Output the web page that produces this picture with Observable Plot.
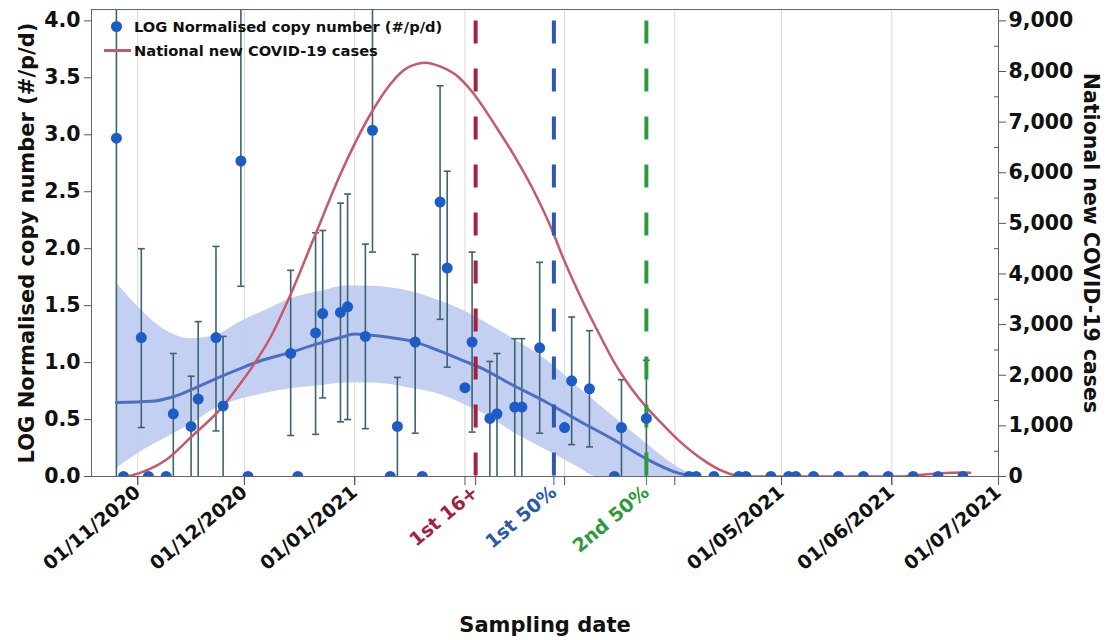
<!DOCTYPE html>
<html>
<head>
<meta charset="utf-8">
<script src="https://cdn.jsdelivr.net/npm/d3@7"></script>
<script src="https://cdn.jsdelivr.net/npm/@observablehq/plot@0.6"></script>
<style>
  body { margin: 0; background: #fff; }
  #wrap { position: relative; width: 1109px; height: 640px; overflow: hidden; }
  #chart svg text { font-weight: 700; }
  #legend { position: absolute; left: 104px; top: 14px; font-family: "DejaVu Sans", sans-serif; font-weight: 700; font-size: 14.7px; color: #111; }
  #legend .row { display: flex; align-items: center; height: 24px; white-space: nowrap; }
  #legend .sw { position: relative; width: 27px; height: 24px; margin-right: 3px; }
  #legend .dot::after { content: ""; position: absolute; left: 7px; top: 6.5px; width: 11px; height: 11px; border-radius: 50%; background: #1d5bc6; }
  #legend .line::after { content: ""; position: absolute; left: 0; top: 11px; width: 27px; height: 2.5px; background: #c6596b; }
</style>
</head>
<body>
<div id="wrap">
  <div id="chart"></div>
  <div id="legend">
    <div class="row"><span class="sw dot"></span><span>LOG Normalised copy number (#/p/d)</span></div>
    <div class="row"><span class="sw line"></span><span>National new COVID-19 cases</span></div>
  </div>
</div>
<script>
// ---------- data ----------
const sampleDates = ["2020-10-26","2020-10-28","2020-11-02","2020-11-04","2020-11-09","2020-11-11","2020-11-16","2020-11-18","2020-11-23","2020-11-25","2020-11-30","2020-12-02","2020-12-14","2020-12-16","2020-12-21","2020-12-23","2020-12-28","2020-12-30","2021-01-04","2021-01-06","2021-01-11","2021-01-13","2021-01-18","2021-01-20","2021-01-25","2021-01-27","2021-02-01","2021-02-03","2021-02-08","2021-02-10","2021-02-15","2021-02-17","2021-02-22","2021-03-01","2021-03-03","2021-03-08","2021-03-15","2021-03-17","2021-03-24","2021-04-05","2021-04-07","2021-04-12","2021-04-19","2021-04-21","2021-04-28","2021-05-03","2021-05-05","2021-05-10","2021-05-17","2021-05-24","2021-05-31","2021-06-07","2021-06-14","2021-06-21"];
const copyNumber = [2.97,0,1.22,0,0,0.55,0.44,0.68,1.22,0.62,2.77,0,1.08,0,1.26,1.43,1.44,1.49,1.23,3.04,0,0.44,1.18,0,2.41,1.83,0.78,1.18,0.51,0.55,0.61,0.61,1.13,0.43,0.84,0.77,0,0.43,0.51,0,0,0,0,0,0,0,0,0,0,0,0,0,0,0];
const errLow = [0,0,0.43,0,0,0,0,0,0.40,0,1.67,0,0.36,0,0.37,0.69,0.48,0.50,0.42,1.97,0,0,0.38,0,1.38,0.96,0.78,0.39,0,0,0,0,0.38,0.43,0.28,0.26,0,0,0,0,0,0,0,0,0,0,0,0,0,0,0,0,0,0];
const errHigh = [4.6,0,2.00,0,0,1.08,0.88,1.36,2.02,1.23,4.6,0,1.81,0,2.14,2.16,2.40,2.48,2.04,4.6,0,0.87,1.95,0,3.43,2.68,0.78,1.97,1.01,1.08,1.21,1.21,1.88,0.43,1.40,1.28,0,0.85,1.02,0,0,0,0,0,0,0,0,0,0,0,0,0,0,0];

const fitDates = ["2020-10-26","2020-11-05","2020-11-11","2020-11-18","2020-11-23","2020-11-30","2020-12-05","2020-12-14","2020-12-21","2020-12-28","2021-01-01","2021-01-04","2021-01-11","2021-01-18","2021-01-25","2021-02-01","2021-02-05","2021-02-14","2021-02-24","2021-03-05","2021-03-15","2021-03-24","2021-04-02","2021-04-07"];
const fitValues = [0.65,0.66,0.70,0.79,0.86,0.95,1.01,1.09,1.16,1.22,1.25,1.245,1.22,1.18,1.10,1.01,0.96,0.81,0.65,0.49,0.32,0.155,0.03,0.0];

const bandDates = ["2020-10-26","2020-11-02","2020-11-09","2020-11-16","2020-11-23","2020-11-30","2020-12-07","2020-12-14","2020-12-23","2020-12-30","2021-01-06","2021-01-16","2021-01-25","2021-02-01","2021-02-08","2021-02-14","2021-02-24","2021-03-05","2021-03-10","2021-03-15","2021-03-24","2021-04-02","2021-04-08"];
const bandLow = [0.07,0.22,0.34,0.46,0.60,0.68,0.73,0.77,0.80,0.82,0.82,0.78,0.72,0.63,0.52,0.40,0.23,0.08,0,0,0,0,0];
const bandHigh = [1.70,1.46,1.28,1.21,1.24,1.36,1.46,1.56,1.63,1.675,1.67,1.63,1.54,1.45,1.33,1.22,1.02,0.78,0.65,0.52,0.29,0.08,0];

const caseDates = ["2020-10-29","2020-11-02","2020-11-09","2020-11-16","2020-11-25","2020-11-30","2020-12-04","2020-12-09","2020-12-14","2020-12-21","2020-12-28","2021-01-06","2021-01-11","2021-01-16","2021-01-21","2021-01-25","2021-01-30","2021-02-03","2021-02-10","2021-02-15","2021-02-20","2021-02-25","2021-03-01","2021-03-06","2021-03-11","2021-03-15","2021-03-20","2021-03-24","2021-03-29","2021-04-02","2021-04-06","2021-04-10","2021-04-14","2021-04-18","2021-04-20","2021-06-04","2021-06-08","2021-06-14","2021-06-21","2021-06-23"];
const caseValues = [0,80,330,780,1390,1850,2250,2840,3600,4790,5975,7225,7750,8080,8175,8100,7900,7600,6880,6320,5690,4950,4250,3475,2780,2250,1720,1370,1000,720,480,280,120,20,0,0,25,60,80,75];

const gridDates = ["2020-11-01","2020-12-01","2021-01-01","2021-02-01","2021-03-01","2021-04-01","2021-05-01","2021-06-01"];
const tickDates = ["2020-11-01","2020-12-01","2021-01-01","2021-02-01","2021-03-01","2021-04-01","2021-05-01","2021-06-01","2021-07-01"];
const dateLabelTicks = ["2020-11-01","2020-12-01","2021-01-01","2021-05-01","2021-06-01","2021-07-01"];
const eventDates = ["2021-02-04","2021-02-26","2021-03-24"];
const eventLabels = ["1st 16+","1st 50%","2nd 50%"];
const eventColors = ["#a3223f","#2b5ba8","#2f9a3c"];
const leftTicks = [0,0.5,1,1.5,2,2.5,3,3.5,4];
const rightTicks = [0,1000,2000,3000,4000,5000,6000,7000,8000,9000];
const rightMinorTicks = [500,1500,2500,3500,4500,5500,6500,7500,8500];
const xDomain = ["2020-10-19","2021-07-01"];
const yDomain = [0, 4.1];
const rightMax = 9000;   // right axis value aligned with left 4.0
const leftAtRightMax = 4;

const xTitle = "Sampling date";
const leftTitle = "LOG Normalised copy number (#/p/d)";
const rightTitle = "National new COVID-19 cases";

// ---------- build ----------
const parse = d3.utcParse("%Y-%m-%d");
const ratio = leftAtRightMax / rightMax;
const samples = sampleDates.map((d, i) => ({date: parse(d), v: copyNumber[i], lo: errLow[i], hi: errHigh[i]}));
const bars = samples.filter(d => d.hi > d.lo);
const caps = [];
for (const d of bars) {
  if (d.lo > 0) caps.push({date: d.date, y: d.lo});
  caps.push({date: d.date, y: d.hi});
}
const fit = fitDates.map((d, i) => ({date: parse(d), v: fitValues[i]}));
const band = bandDates.map((d, i) => ({date: parse(d), lo: bandLow[i], hi: bandHigh[i]}));
const cases = caseDates.map((d, i) => ({date: parse(d), y: caseValues[i] * ratio}));

const capSymbol = {draw(ctx, size) { const w = Math.sqrt(size / Math.PI); ctx.moveTo(-w, 0); ctx.lineTo(w, 0); }};

const errColor = "#3c6470";
const font = "'DejaVu Sans', sans-serif";
const rot = -40;

const eventRules = eventDates.map((d, i) =>
  Plot.ruleX([parse(d)], {y1: 4.0, y2: 0, stroke: eventColors[i], strokeWidth: 4, strokeDasharray: "23,25"}));
const eventAxes = eventDates.map((d, i) =>
  Plot.axisX([parse(d)], {tickFormat: () => eventLabels[i], tickRotate: rot, tickSize: 9, tickPadding: 4,
    fontSize: 19, color: eventColors[i], stroke: eventColors[i], fill: eventColors[i], label: null}));

const plot = Plot.plot({
  width: 1109, height: 640,
  marginLeft: 91, marginRight: 111, marginTop: 9, marginBottom: 164,
  style: {fontFamily: font, fontSize: "20px", color: "#111", background: "#fff"},
  x: {type: "utc", domain: xDomain.map(parse)},
  y: {domain: yDomain},
  marks: [
    Plot.ruleX(gridDates.map(parse), {stroke: "#d9d9d9", strokeWidth: 1}),
    Plot.areaY(band, {x: "date", y1: "lo", y2: "hi", fill: "#bccbf1", fillOpacity: 0.9, curve: "monotone-x", clip: true}),
    Plot.ruleX(bars, {x: "date", y1: "lo", y2: "hi", stroke: errColor, strokeWidth: 1.6, clip: true}),
    Plot.dot(caps, {x: "date", y: "y", symbol: capSymbol, r: 3.5, stroke: errColor, fill: "none", strokeWidth: 1.6, clip: true}),
    Plot.line(fit, {x: "date", y: "v", stroke: "#4d6fc3", strokeWidth: 3, curve: "monotone-x", clip: true}),
    Plot.line(cases, {x: "date", y: "y", stroke: "#c6596b", strokeWidth: 2.5, curve: "monotone-x", clip: true}),
    ...eventRules,
    Plot.dot(samples, {x: "date", y: "v", r: 5.5, fill: "#1d5bc6", clip: true}),
    Plot.frame({stroke: "#666"}),
    Plot.axisY(leftTicks, {tickFormat: d3.format(".1f"), tickSize: 7, tickPadding: 4, fontSize: 20.5, stroke: "#555", label: null}),
    Plot.axisY(rightTicks.map(v => v * ratio), {anchor: "right", tickFormat: d => d3.format(",")(Math.round(d / ratio)), tickSize: 7, tickPadding: 3, fontSize: 20.5, stroke: "#555", label: null}),
    Plot.axisY(rightMinorTicks.map(v => v * ratio), {anchor: "right", tickFormat: () => "", tickSize: -5, stroke: "#555", label: null}),
    Plot.axisX(tickDates.map(parse), {tickFormat: () => "", tickSize: 9, stroke: "#555", label: null}),
    Plot.axisX(dateLabelTicks.map(parse), {tickFormat: d3.utcFormat("%d/%m/%Y"), tickRotate: rot, tickSize: 9, tickPadding: 4, fontSize: 19, stroke: "#555", label: null}),
    ...eventAxes,
    Plot.text([leftTitle], {text: d => d, frameAnchor: "left", textAnchor: "middle", lineAnchor: "middle", dx: -64, rotate: -90, fontSize: 21, fontWeight: "bold", fill: "#111"}),
    Plot.text([rightTitle], {text: d => d, frameAnchor: "right", textAnchor: "middle", lineAnchor: "middle", dx: 92, rotate: 90, fontSize: 20.5, fontWeight: "bold", fill: "#111"}),
    Plot.text([xTitle], {text: d => d, frameAnchor: "bottom", textAnchor: "middle", lineAnchor: "middle", dy: 149, fontSize: 21, fontWeight: "bold", fill: "#111"})
  ]
});
document.getElementById("chart").appendChild(plot);
</script>
</body>
</html>
